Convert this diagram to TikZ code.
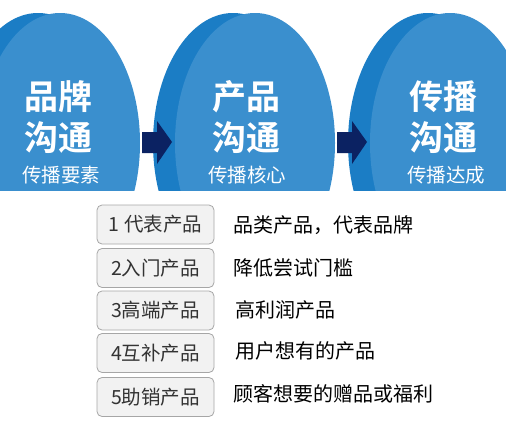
\documentclass[tikz,border=0pt]{standalone}
\usepackage{fontspec}
\setmainfont{Noto Sans CJK SC}
\newfontfamily\cjkb{Noto Sans CJK SC Bold}
\definecolor{backblue}{HTML}{1B7DC5}
\definecolor{frontblue}{HTML}{3A8FCE}
\definecolor{navy}{HTML}{0B2262}
\definecolor{boxfill}{HTML}{F2F2F2}
\definecolor{boxline}{HTML}{A6A6A6}
\definecolor{boxtext}{HTML}{333333}
\begin{document}
\begin{tikzpicture}[x=1pt,y=-1pt,
  backell/.style={fill=backblue,draw=none},
  frontell/.style={fill=frontblue,draw=none},
  blockarrow/.style={fill=navy,draw=none},
  bigtxt/.style={text=white,font=\cjkb\fontsize{34}{34}\selectfont,inner sep=0pt},
  subtxt/.style={text=white,font=\fontsize{19.5}{19.5}\selectfont,inner sep=0pt},
  itembox/.style={draw=boxline,fill=boxfill,rounded corners=5pt,minimum width=117pt,minimum height=39pt,inner sep=0pt,text=boxtext,font=\fontsize{19.5}{19.5}\selectfont,line width=0.8pt},
  desc/.style={anchor=west,inner sep=0pt,text=black,font=\fontsize{20}{20}\selectfont}]
\useasboundingbox (0,0) rectangle (506,439);
\begin{scope}
\clip (0,0) rectangle (506,190);
% ellipse 1
\fill[backell] (38,143) ellipse [x radius=80, y radius=130];
\fill[frontell] (60,143) ellipse [x radius=80, y radius=130];
% ellipse 2
\fill[backell] (233,143) ellipse [x radius=80, y radius=130];
\fill[blockarrow] (142,132) -- (157,132) -- (157,121) -- (172,142) -- (157,164) -- (157,153) -- (142,153) -- cycle;
\fill[frontell] (255,143) ellipse [x radius=80, y radius=130];
% ellipse 3
\fill[backell] (428,143) ellipse [x radius=80, y radius=130];
\fill[blockarrow] (337,132) -- (352,132) -- (352,121) -- (367,142) -- (352,164) -- (352,153) -- (337,153) -- cycle;
\fill[frontell] (450,143) ellipse [x radius=80, y radius=130];
\end{scope}
% texts in ellipses
\node[bigtxt] (t1a) at (58,97) {品牌};
\node[bigtxt] (t1b) at (58,138) {沟通};
\node[subtxt] (t1c) at (61,175) {传播要素};
\node[bigtxt] (t2a) at (246,97) {产品};
\node[bigtxt] (t2b) at (246,138) {沟通};
\node[subtxt] (t2c) at (247,175) {传播核心};
\node[bigtxt] (t3a) at (443,97) {传播};
\node[bigtxt] (t3b) at (443,138) {沟通};
\node[subtxt] (t3c) at (446,175) {传播达成};
% boxes
\node[itembox] (b1) at (155.5,224.5) {1 代表产品};
\node[itembox] (b2) at (155.5,268) {2入门产品};
\node[itembox] (b3) at (155.5,310.5) {3高端产品};
\node[itembox] (b4) at (155.5,353) {4互补产品};
\node[itembox] (b5) at (155.5,397) {5助销产品};
% descriptions
\node[desc] (d1) at (233,225) {品类产品，代表品牌};
\node[desc] (d2) at (233,268) {降低尝试门槛};
\node[desc] (d3) at (235,310) {高利润产品};
\node[desc] (d4) at (235,351) {用户想有的产品};
\node[desc] (d5) at (233,394) {顾客想要的赠品或福利};
\end{tikzpicture}
\end{document}
